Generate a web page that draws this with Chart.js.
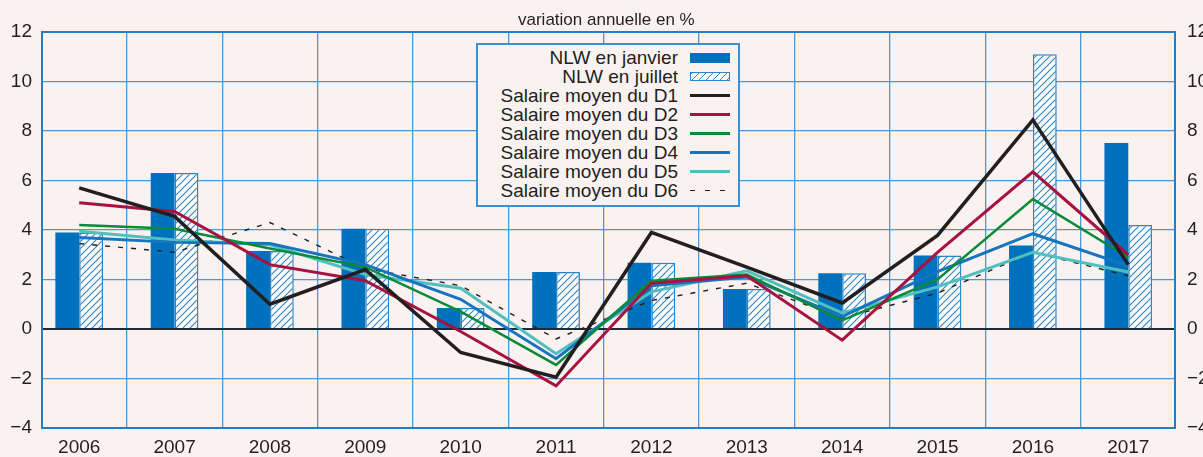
<!DOCTYPE html>
<html>
<head>
<meta charset="utf-8">
<script src="https://cdn.jsdelivr.net/npm/chart.js@4.4.1/dist/chart.umd.min.js"></script>
<style>
    html, body { margin: 0; padding: 0; background: #f9f2f0; }
    #wrap { position: relative; width: 1203px; height: 457px; font-family: "Liberation Sans", Arial, sans-serif; color: #231f20; }
    #chart { position: absolute; left: 0; top: 0; }
    #title { position: absolute; left: 518px; top: 10px; font-size: 17px; line-height: 20px; white-space: nowrap; }
    #legend {
        position: absolute; left: 476px; top: 43px; width: 264px; height: 164px;
        box-sizing: border-box; border: 2px solid #3d91d1; background: #f9f2f0;
        padding: 3px 8px 0 0;
    }
    .row { display: flex; justify-content: flex-end; align-items: center; height: 19px; line-height: 19px; font-size: 19px; white-space: nowrap; }
    .sample { display: inline-block; width: 40px; margin-left: 12px; }
    .solid { height: 10px; background: #0071bc; }
    .hatch { height: 9px; box-sizing: border-box; border: 1.5px solid #2a86c9; background: repeating-linear-gradient(135deg, #2a86c9 0 1.1px, #fdfbfb 1.1px 5px); }
    .ln { height: 3px; }
    .dash { height: 1.5px; background: repeating-linear-gradient(to right, #231f20 0 5px, transparent 5px 15px); }
</style>
</head>
<body>
<div id="wrap">
    <canvas id="chart" width="1203" height="457"></canvas>
    <div id="title">variation annuelle en %</div>
    <div id="legend"></div>
</div>
<script>
const years = [2006, 2007, 2008, 2009, 2010, 2011, 2012, 2013, 2014, 2015, 2016, 2017];
const yTicks = [-4, -2, 0, 2, 4, 6, 8, 10, 12];

const nlwJanvier = [3.9, 6.3, 3.15, 4.05, 0.85, 2.3, 2.68, 1.62, 2.25, 2.97, 3.37, 7.52];
const nlwJuillet = [3.9, 6.3, 3.15, 4.05, 0.85, 2.3, 2.68, 1.62, 2.25, 2.97, 11.1, 4.2];

const d1 = [5.7, 4.55, 1.0, 2.4, -0.95, -1.95, 3.9, 2.5, 1.05, 3.78, 8.45, 2.6];
const d2 = [5.1, 4.75, 2.6, 1.95, -0.1, -2.3, 1.85, 2.15, -0.45, 3.1, 6.35, 3.0];
const d3 = [4.2, 4.05, 3.25, 2.5, 0.7, -1.45, 1.95, 2.2, 0.35, 2.0, 5.25, 2.9];
const d4 = [3.7, 3.5, 3.45, 2.6, 1.2, -1.2, 1.75, 2.1, 0.5, 2.32, 3.85, 2.55];
const d5 = [3.95, 3.6, 3.4, 2.2, 1.65, -1.0, 1.5, 2.35, 0.65, 1.7, 3.1, 2.3];
const d6 = [3.45, 3.1, 4.3, 2.45, 1.75, -0.4, 1.15, 1.85, 0.45, 1.45, 3.1, 2.15];

const fontFamily = '"Liberation Sans", Arial, sans-serif';
const textColor = '#231f20';
const gridColor = '#4a98d6';
const frameColor = '#1f7fc6';
const zeroColor = '#1d2b38';

Chart.defaults.font.family = fontFamily;

const toPoints = vals => vals.map((v, i) => ({ x: i, y: v }));

const ctx = document.getElementById('chart').getContext('2d');

// diagonal hatch for the July bars
const tile = document.createElement('canvas');
tile.width = 7;
tile.height = 7;
const tctx = tile.getContext('2d');
tctx.fillStyle = '#fdfbfb';
tctx.fillRect(0, 0, 7, 7);
tctx.strokeStyle = '#2a86c9';
tctx.lineWidth = 1.1;
tctx.beginPath();
tctx.moveTo(-1, 8); tctx.lineTo(8, -1);
tctx.moveTo(-1, 1); tctx.lineTo(1, -1);
tctx.moveTo(6, 8); tctx.lineTo(8, 6);
tctx.stroke();
const hatch = ctx.createPattern(tile, 'repeat');

const lines = [
    { label: 'Salaire moyen du D1', data: d1, color: '#231f20', width: 3.5 },
    { label: 'Salaire moyen du D2', data: d2, color: '#a8123e', width: 3 },
    { label: 'Salaire moyen du D3', data: d3, color: '#0b8a3a', width: 2.5 },
    { label: 'Salaire moyen du D4', data: d4, color: '#1774bf', width: 3 },
    { label: 'Salaire moyen du D5', data: d5, color: '#52bfbf', width: 3 },
    { label: 'Salaire moyen du D6', data: d6, color: '#231f20', width: 1.4, dash: [5, 8] }
];

const datasets = [
    {
        type: 'bar', label: 'NLW en janvier', data: toPoints(nlwJanvier),
        backgroundColor: '#0071bc', borderWidth: 0,
        categoryPercentage: 0.5, barPercentage: 1, order: 10
    },
    {
        type: 'bar', label: 'NLW en juillet', data: toPoints(nlwJuillet),
        backgroundColor: hatch, borderColor: '#2a86c9', borderWidth: 1.5,
        categoryPercentage: 0.5, barPercentage: 1, order: 10
    }
];
lines.forEach((l, i) => {
    datasets.push({
        type: 'line', label: l.label, data: toPoints(l.data),
        borderColor: l.color, borderWidth: l.width, borderDash: l.dash || [],
        borderJoinStyle: 'miter', pointRadius: 0, tension: 0, fill: false,
        order: 1 + i
    });
});

const tickFont = { size: 19, family: fontFamily };
const setYTicks = s => { s.ticks = yTicks.map(v => ({ value: v })); };
const minusLabel = v => String(v).replace('-', '\u2212');

new Chart(ctx, {
    type: 'bar',
    data: { datasets },
    options: {
        responsive: false,
        animation: false,
        devicePixelRatio: 1,
        layout: { padding: { top: 32, left: 0, right: 0, bottom: 0 } },
        plugins: { legend: { display: false }, tooltip: { enabled: false }, title: { display: false } },
        scales: {
            x: {
                type: 'linear', min: -0.39, max: 11.49, offset: false,
                afterBuildTicks: s => { s.ticks = years.map((y, i) => ({ value: i })); },
                afterFit: s => { s.height = 29; },
                ticks: { callback: v => years[v], font: tickFont, color: textColor, padding: 8, autoSkip: false, maxRotation: 0 },
                grid: { offset: true, color: gridColor, lineWidth: 1.3, drawTicks: false },
                border: { display: true, color: frameColor, width: 2 }
            },
            y: {
                type: 'linear', position: 'left', min: -4, max: 12,
                afterBuildTicks: setYTicks,
                afterFit: s => { s.width = 42; },
                ticks: { callback: minusLabel, font: tickFont, color: textColor, padding: 10 },
                grid: {
                    drawTicks: false,
                    color: c => c.tick && c.tick.value === 0 ? zeroColor : (c.tick && c.tick.value === 12 ? frameColor : gridColor),
                    lineWidth: c => c.tick && (c.tick.value === 0 || c.tick.value === 12) ? 2 : 1.3
                },
                border: { display: true, color: frameColor, width: 2 }
            },
            y2: {
                type: 'linear', position: 'right', min: -4, max: 12,
                afterBuildTicks: setYTicks,
                afterFit: s => { s.width = 28; },
                ticks: { callback: minusLabel, font: tickFont, color: textColor, padding: 12 },
                grid: { drawOnChartArea: false, drawTicks: false },
                border: { display: true, color: frameColor, width: 2 }
            }
        }
    }
});

// legend: label right-aligned, sample on the right
const legend = document.getElementById('legend');
const legendItems = [
    { label: 'NLW en janvier', cls: 'solid' },
    { label: 'NLW en juillet', cls: 'hatch' }
].concat(lines.map(l => ({ label: l.label, cls: l.dash ? 'dash' : 'ln', color: l.dash ? null : l.color })));
legendItems.forEach(item => {
    const row = document.createElement('div');
    row.className = 'row';
    const txt = document.createElement('span');
    txt.textContent = item.label;
    const sample = document.createElement('span');
    sample.className = 'sample ' + item.cls;
    if (item.color) sample.style.background = item.color;
    row.appendChild(txt);
    row.appendChild(sample);
    legend.appendChild(row);
});
</script>
</body>
</html>
